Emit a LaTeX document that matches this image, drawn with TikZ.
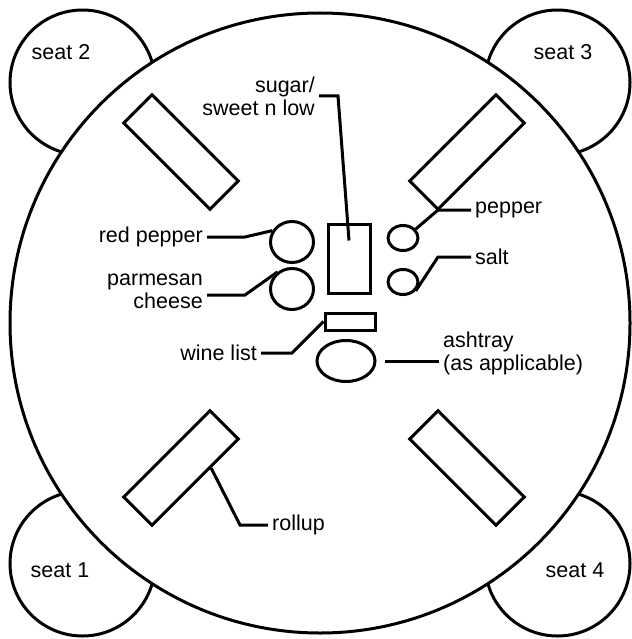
\documentclass[tikz,border=0pt]{standalone}
\usepackage{fontspec}
\setmainfont{Liberation Sans}
\usetikzlibrary{shapes.geometric,calc}
\tikzset{
  tbl/.style={draw, circle, fill=white, line width=3pt, minimum size=620pt, inner sep=0pt},
  seatc/.style={draw, circle, fill=white, line width=3pt, minimum size=145pt, inner sep=0pt},
  mat/.style={draw, rectangle, line width=3pt, minimum width=122pt, minimum height=40pt, inner sep=0pt},
  pkt/.style={draw, rectangle, line width=3pt, inner sep=0pt},
  dish/.style={draw, ellipse, line width=3pt, inner sep=0pt},
  lead/.style={line width=3pt},
  tlab/.style={font=\fontsize{21.5}{23}\selectfont, inner sep=4pt},
}

\begin{document}
\begin{tikzpicture}[x=1pt, y=-1pt]
  \useasboundingbox (0,0) rectangle (631,639);
  % seats, then the table on top of them
  \node[seatc] (s2) at (82.5,82.5) {};
  \node[seatc] (s3) at (557.5,82.5) {};
  \node[seatc] (s1) at (82.5,563.5) {};
  \node[seatc] (s4) at (557.5,563.5) {};
  \node[tbl] (table) at (320,323) {};
  \node[tlab] (ls2) at (61,52) {seat 2};
  \node[tlab] (ls3) at (563,52) {seat 3};
  \node[tlab] (ls1) at (60,570) {seat 1};
  \node[tlab] (ls4) at (575,570) {seat 4};
  % rollups
  \node[mat, rotate=-45] (r2) at (181,152) {};
  \node[mat, rotate=45] (r3) at (467,152) {};
  \node[mat, rotate=45] (r1) at (181,468) {};
  \node[mat, rotate=-45] (r4) at (467,468) {};
  % middle of the table
  \node[pkt, minimum width=42pt, minimum height=69pt] (sugar) at (349,258.5) {};
  \node[pkt, minimum width=50pt, minimum height=17pt] (wine) at (350,321.5) {};
  \node[dish, minimum width=43pt, minimum height=41pt] (rpep) at (292,242) {};
  \node[dish, minimum width=43pt, minimum height=41pt] (parm) at (292,289) {};
  \node[dish, minimum width=30pt, minimum height=25pt] (pep) at (403,238) {};
  \node[dish, minimum width=30pt, minimum height=25pt] (salt) at (403,282) {};
  \node[dish, minimum width=58pt, minimum height=41pt] (ash) at (346,361) {};
  % labels
  \node[tlab, align=right, anchor=east] (lsugar) at (319,96) {sugar/\\sweet n low};
  \node[tlab, anchor=east] (lred) at (207,237) {red pepper};
  \node[tlab, align=right, anchor=east] (lparm) at (207,291) {parmesan\\cheese};
  \node[tlab, anchor=east] (lwine) at (261,353) {wine list};
  \node[tlab, align=left, anchor=west] (lash) at (439,353) {ashtray\\(as applicable)};
  \node[tlab, anchor=west] (lpep) at (471,210) {pepper};
  \node[tlab, anchor=west] (lsalt) at (471,257) {salt};
  \node[tlab, anchor=west] (lroll) at (268,525) {rollup};
  % leaders
  \draw[lead] (lsugar.east) -- ++(19,0) -- ([yshift=18pt]sugar.center);
  \draw[lead] (lred.east) -- ++(38,0) -- (rpep.150);
  \draw[lead] ([yshift=-4pt]lparm.east) -- ++(38,0) -- (parm.130);
  \draw[lead] (lwine.east) -- ++(31,0) -- (wine.west);
  \draw[lead] ([xshift=8pt]ash.east) -- (ash.east -| lash.west);
  \draw[lead] (lpep.west) -- ++(-33,0) -- (pep.35);
  \draw[lead] (lsalt.west) -- ++(-33,0) -- (salt.-35);
  \draw[lead] ($(r1.south)!0.34!(r1.south east)$) -- ([xshift=-28pt]lroll.west) -- (lroll.west);
\end{tikzpicture}
\end{document}
